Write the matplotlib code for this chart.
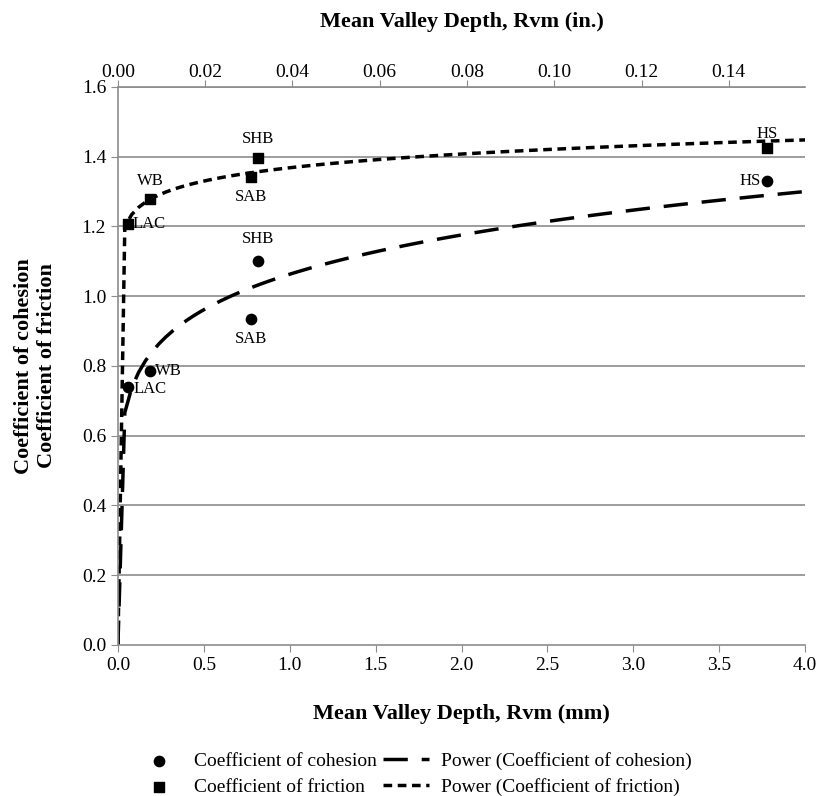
import matplotlib
matplotlib.use('Agg')
import matplotlib.pyplot as plt
import numpy as np

plt.rcParams['font.family'] = ['Liberation Serif', 'DejaVu Serif']

# surface samples
names = ['LAC', 'WB', 'SAB', 'SHB', 'HS']
rvm_mm = [0.058, 0.186, 0.774, 0.815, 3.78]
cohesion = [0.74, 0.786, 0.935, 1.10, 1.33]
friction = [1.207, 1.279, 1.342, 1.396, 1.425]

y_ticks = [0.0, 0.2, 0.4, 0.6, 0.8, 1.0, 1.2, 1.4, 1.6]
x_ticks = [0.0, 0.5, 1.0, 1.5, 2.0, 2.5, 3.0, 3.5, 4.0]
in_ticks = [0.00, 0.02, 0.04, 0.06, 0.08, 0.10, 0.12, 0.14]


def power_fit(x, y):
    # same as an Excel power trendline: straight line in log-log space
    b, lna = np.polyfit(np.log(x), np.log(y), 1)
    return np.exp(lna), b


fig = plt.figure(figsize=(8.19, 7.96), dpi=100)
ax = fig.add_axes([0.144, 0.190, 0.839, 0.701])

grid_col = '#8c8c8c'
for yv in y_ticks[1:]:
    ax.axhline(yv, color=grid_col, lw=1.2, zorder=1)

xs = np.linspace(0, 4.0, 101)
a_c, b_c = power_fit(rvm_mm, cohesion)
a_f, b_f = power_fit(rvm_mm, friction)

ln_c, = ax.plot(xs, a_c * xs ** b_c, color='black', lw=2.5,
                dashes=(7, 4), zorder=2)
ln_f, = ax.plot(xs, a_f * xs ** b_f, color='black', lw=2.5,
                dashes=(2.5, 1.6), zorder=2)
sc_c = ax.scatter(rvm_mm, cohesion, marker='o', s=55, color='black', zorder=3)
sc_f = ax.scatter(rvm_mm, friction, marker='s', s=55, color='black', zorder=3)

# point labels
coh_off = [(4, -2, 'left', 'center'), (4, 0, 'left', 'center'),
           (0, -9, 'center', 'top'), (0, 10, 'center', 'bottom'),
           (-5, 0, 'right', 'center')]
fr_off = [(3, 0, 'left', 'center'), (0, 7, 'center', 'bottom'),
          (0, -9, 'center', 'top'), (0, 8, 'center', 'bottom'),
          (0, 4, 'center', 'bottom')]
for i, nm in enumerate(names):
    dx, dy, ha, va = coh_off[i]
    ax.annotate(nm, (rvm_mm[i], cohesion[i]), xytext=(dx, dy),
                textcoords='offset points', ha=ha, va=va, fontsize=12)
    dx, dy, ha, va = fr_off[i]
    ax.annotate(nm, (rvm_mm[i], friction[i]), xytext=(dx, dy),
                textcoords='offset points', ha=ha, va=va, fontsize=12)

ax.set_xlim(0, 4.0)
ax.set_ylim(0, 1.6)
ax.set_xticks(x_ticks)
ax.set_xticklabels(['%.1f' % v for v in x_ticks])
ax.set_yticks(y_ticks)
ax.set_yticklabels(['%.1f' % v for v in y_ticks])
ax.tick_params(labelsize=14, color=grid_col, length=5)

for s in ['left', 'bottom', 'top']:
    ax.spines[s].set_color(grid_col)
    ax.spines[s].set_linewidth(1.2)
ax.spines['right'].set_visible(False)

ax.set_xlabel('Mean Valley Depth, Rvm (mm)', fontsize=16, fontweight='bold',
              labelpad=22)
ax.set_ylabel('Coefficient of cohesion\nCoefficient of friction', fontsize=16,
              fontweight='bold', labelpad=18)

top = ax.secondary_xaxis('top', functions=(lambda x: x / 25.4,
                                           lambda x: x * 25.4))
top.set_xticks(in_ticks)
top.set_xticklabels(['%.2f' % v for v in in_ticks])
top.tick_params(labelsize=14, color=grid_col, length=5, pad=-1)
top.spines['top'].set_visible(False)
top.set_xlabel('Mean Valley Depth, Rvm (in.)', fontsize=16, fontweight='bold',
               labelpad=27)

fig.legend([sc_c, sc_f, ln_c, ln_f],
           ['Coefficient of cohesion', 'Coefficient of friction',
            'Power (Coefficient of cohesion)', 'Power (Coefficient of friction)'],
           ncol=2, loc='lower center', bbox_to_anchor=(0.505, -0.022),
           frameon=False, fontsize=14, handlelength=2.4, columnspacing=0.3,
           labelspacing=0.4, handletextpad=0.6)

fig.savefig('out.png', dpi=100)
